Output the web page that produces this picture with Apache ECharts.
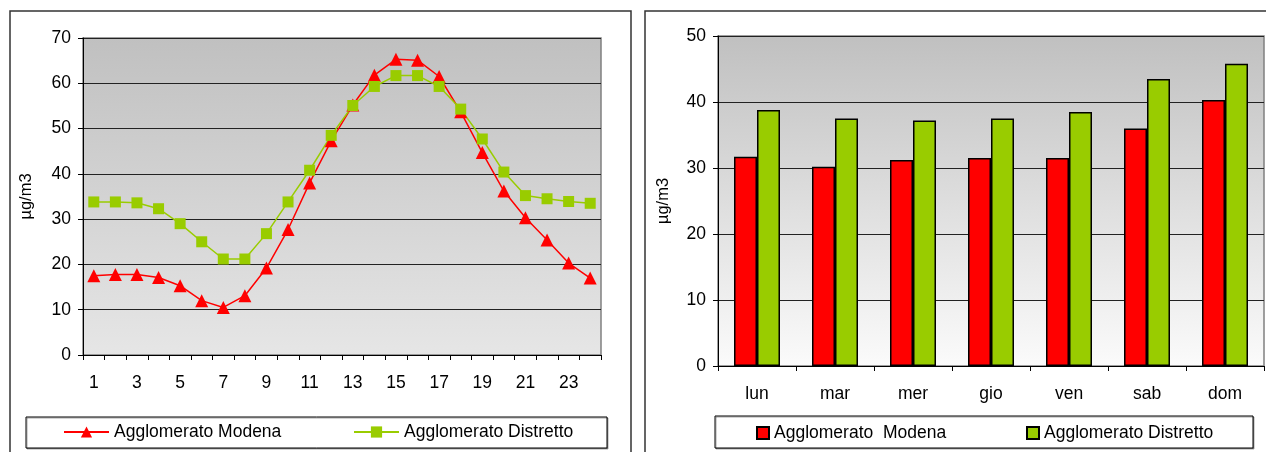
<!DOCTYPE html>
<html>
<head>
<meta charset="utf-8">
<script src="https://cdn.jsdelivr.net/npm/echarts@6/dist/echarts.min.js"></script>
<style>
  html, body { margin: 0; padding: 0; background: #fff; }
  #chart { width: 1266px; height: 452px; }
</style>
</head>
<body>
<div id="chart"></div>
<script>
// hourly profile (left)
const hours = ['1','2','3','4','5','6','7','8','9','10','11','12','13','14','15','16','17','18','19','20','21','22','23','24'];
const modenaHourly = [17.5, 17.8, 17.8, 17.1, 15.3, 12.0, 10.5, 13.1, 19.2, 27.7, 38.0, 47.3, 55.2, 61.8, 65.3, 65.1, 61.5, 53.7, 44.7, 36.2, 30.3, 25.4, 20.3, 17.0];
const distrettoHourly = [33.8, 33.8, 33.6, 32.3, 29.0, 25.0, 21.2, 21.2, 26.8, 33.8, 40.8, 48.5, 55.1, 59.3, 61.7, 61.7, 59.3, 54.3, 47.7, 40.4, 35.2, 34.5, 33.9, 33.5];

// weekly profile (right)
const days = ['lun', 'mar', 'mer', 'gio', 'ven', 'sab', 'dom'];
const modenaDaily = [31.7, 30.2, 31.2, 31.5, 31.5, 36.0, 40.3];
const distrettoDaily = [38.8, 37.5, 37.2, 37.5, 38.5, 43.5, 45.8];

const FONT = 'Liberation Sans, Arial, sans-serif';
const RED = '#ff0000';
const GREEN = '#99cc00';

function plotBg(bottom) {
  return new echarts.graphic.LinearGradient(0, 0, 0, 1, [
    { offset: 0, color: '#c0c0c0' },
    { offset: 1, color: bottom }
  ]);
}

const chart = echarts.init(document.getElementById('chart'), null, { renderer: 'canvas' });

const textStyle = { fontFamily: FONT, fontSize: 17.5, color: '#000' };

const option = {
  backgroundColor: '#fff',
  animation: false,
  textStyle: { fontFamily: FONT },
  grid: [
    { left: 83, top: 38, width: 518, height: 317, show: true, backgroundColor: plotBg('#e6e6e6'), borderColor: '#808080', borderWidth: 1.5 },
    { left: 718, top: 36, width: 546, height: 330, show: true, backgroundColor: plotBg('#fbfbfb'), borderColor: '#808080', borderWidth: 1.5 }
  ],
  xAxis: [
    {
      type: 'category', gridIndex: 0, data: hours, boundaryGap: true,
      axisLine: { lineStyle: { color: '#000', width: 1 } },
      axisTick: { show: true, interval: 0, length: 5, lineStyle: { color: '#000' } },
      axisLabel: { interval: 1, margin: 19, ...textStyle }
    },
    {
      type: 'category', gridIndex: 1, data: days, boundaryGap: true,
      axisLine: { lineStyle: { color: '#000', width: 1 } },
      axisTick: { show: true, interval: 0, length: 5, lineStyle: { color: '#000' } },
      axisLabel: { margin: 19, ...textStyle }
    }
  ],
  yAxis: [
    {
      type: 'value', gridIndex: 0, min: 0, max: 70, interval: 10,
      name: 'µg/m3', nameLocation: 'middle', nameRotate: 90, nameGap: 48,
      nameTextStyle: { fontFamily: FONT, fontSize: 16.5, color: '#000' },
      axisLine: { show: true, lineStyle: { color: '#000', width: 1 } },
      axisTick: { show: true, length: 5, lineStyle: { color: '#000' } },
      axisLabel: { margin: 12, ...textStyle },
      splitLine: { show: true, lineStyle: { color: '#222', width: 1 } }
    },
    {
      type: 'value', gridIndex: 1, min: 0, max: 50, interval: 10,
      name: 'µg/m3', nameLocation: 'middle', nameRotate: 90, nameGap: 46,
      nameTextStyle: { fontFamily: FONT, fontSize: 16.5, color: '#000' },
      axisLine: { show: true, lineStyle: { color: '#000', width: 1 } },
      axisTick: { show: true, length: 5, lineStyle: { color: '#000' } },
      axisLabel: { margin: 12, ...textStyle },
      splitLine: { show: true, lineStyle: { color: '#222', width: 1 } }
    }
  ],
  legend: [
    {
      data: ['Agglomerato Modena'], left: 63, top: 423,
      itemWidth: 45, itemHeight: 14, itemGap: 0, padding: 0,
      textStyle: textStyle
    },
    {
      data: ['Agglomerato Distretto'], left: 353, top: 423,
      itemWidth: 45, itemHeight: 14, itemGap: 0, padding: 0,
      textStyle: textStyle
    },
    {
      data: [{ name: 'Agglomerato  Modena', icon: 'rect' }], left: 756, top: 424,
      itemWidth: 12, itemHeight: 12, itemGap: 0, padding: 0,
      textStyle: textStyle
    },
    {
      data: [{ name: 'Agglomerato Distretto ', icon: 'rect' }], left: 1026, top: 424,
      itemWidth: 12, itemHeight: 12, itemGap: 0, padding: 0,
      textStyle: textStyle
    }
  ],
  series: [
    {
      name: 'Agglomerato Modena', type: 'line', xAxisIndex: 0, yAxisIndex: 0,
      data: modenaHourly, symbol: 'triangle', symbolSize: 13,
      lineStyle: { color: RED, width: 1.5 }, itemStyle: { color: RED }
    },
    {
      name: 'Agglomerato Distretto', type: 'line', xAxisIndex: 0, yAxisIndex: 0,
      data: distrettoHourly, symbol: 'rect', symbolSize: 11,
      lineStyle: { color: GREEN, width: 1.5 }, itemStyle: { color: GREEN }
    },
    {
      name: 'Agglomerato  Modena', type: 'bar', xAxisIndex: 1, yAxisIndex: 1,
      data: modenaDaily, barWidth: 23, barGap: '0%',
      itemStyle: { color: RED, borderColor: '#000', borderWidth: 1.5 }
    },
    {
      name: 'Agglomerato Distretto ', type: 'bar', xAxisIndex: 1, yAxisIndex: 1,
      data: distrettoDaily, barWidth: 23, barGap: '0%',
      itemStyle: { color: GREEN, borderColor: '#000', borderWidth: 1.5 }
    }
  ],
  graphic: [
    // outer chart frames
    { type: 'rect', shape: { x: 10, y: 11, width: 621, height: 460 }, style: { fill: null, stroke: '#333', lineWidth: 1.5 }, z: -1 },
    { type: 'rect', shape: { x: 645, y: 11, width: 640, height: 460 }, style: { fill: null, stroke: '#333', lineWidth: 1.5 }, z: -1 },
    // legend boxes
    { type: 'rect', shape: { x: 26, y: 417, width: 581, height: 31 }, style: { fill: '#fff', stroke: '#000', lineWidth: 1, shadowColor: 'rgba(0,0,0,0.35)', shadowOffsetX: 1, shadowOffsetY: 1 }, z: 0 },
    { type: 'rect', shape: { x: 715, y: 416, width: 538, height: 32 }, style: { fill: '#fff', stroke: '#000', lineWidth: 1, shadowColor: 'rgba(0,0,0,0.35)', shadowOffsetX: 1, shadowOffsetY: 1 }, z: 0 }
  ]
};

chart.setOption(option);
</script>
</body>
</html>
